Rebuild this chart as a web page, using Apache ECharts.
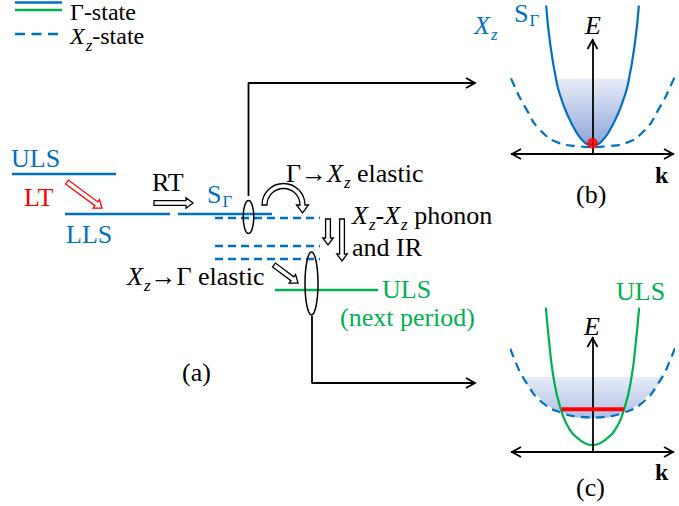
<!DOCTYPE html>
<html><head><meta charset="utf-8">
<script src="https://cdn.jsdelivr.net/npm/echarts@6.0.0/dist/echarts.min.js"></script>
<style>html,body{margin:0;padding:0;background:#fff;}#chart{width:679px;height:506px;}</style>
</head><body><div id="chart"></div>
<script>
// ================= DATA =================
// Panel (a) schematic, in diagram units (x to the right, y downward)
const blueLevels   = [[12,116,174],[65,170,214],[178,272,214]];   // [xFrom, xTo, level]
const xzLevels     = [[215,320,218],[215,320,246],[215,320,259]];
const greenLevels  = [[275,378,290]];
const legendBlue   = [[15,62,2.5]];
const legendGreen  = [[15,62,10]];
const legendDashed = [[15,58,34]];
const connectorToB = [[248.5,196],[248.5,83],[475,83]];
const connectorToC = [[312,316],[312,383],[475,383]];
const connectorTips = [[475,83],[475,383]];
const hollowArrows = [[67,182,102,208],[154,203,193,203],[328,219,328,245],[342,219,342,261],[274,265,298,283]];
const hollowArrowColors = ['#FF0000','#000','#000','#000','#000'];
const curvedArrow  = [[283.5,205]];
const curvedArrowRadius = [19];
const ellipses     = [[248.5,217],[311.5,283.5]];
const ellipseRadii = [[5.3,16.5],[6.5,31.5]];

// Panel (b): k vs E (arbitrary units)
const kGammaB = [-0.616,-0.563,-0.474,-0.41,-0.342,-0.209,-0.106,-0.05,0,0.05,0.106,0.209,0.342,0.41,0.474,0.563,0.616];
const eGammaB = [1.367,1.018,0.651,0.5,0.376,0.193,0.106,0.088,0.083,0.088,0.106,0.193,0.376,0.5,0.651,1.018,1.367];
const kXzB    = [-1.225,-1.053,-0.872,-0.695,-0.43,-0.2,0,0.2,0.43,0.695,0.872,1.053,1.225];
const eXzB    = [0.954,0.649,0.404,0.220,0.098,0.073,0.064,0.073,0.098,0.220,0.404,0.649,0.954];
const kFillB  = [-0.484,-0.41,-0.342,-0.209,-0.106,-0.05,0,0.05,0.106,0.209,0.342,0.41,0.484];
const eFillB  = [0.694,0.5,0.376,0.193,0.106,0.088,0.083,0.088,0.106,0.193,0.376,0.5,0.694];
const fillTopB = 0.694;
const electronB = [[0,0.10]];

// Panel (c)
const kGammaC = [-0.62,-0.57,-0.519,-0.43,-0.298,-0.166,-0.08,0,0.08,0.166,0.298,0.43,0.519,0.57,0.62];
const eGammaC = [1.33,0.97,0.691,0.416,0.202,0.110,0.074,0.064,0.074,0.110,0.202,0.416,0.691,0.97,1.33];
const kXzC    = [-1.225,-1.049,-0.872,-0.652,-0.387,-0.2,0,0.2,0.387,0.652,0.872,1.049,1.225];
const eXzC    = [1.211,0.874,0.630,0.447,0.355,0.327,0.318,0.327,0.355,0.447,0.630,0.874,1.211];
const kShadeC = [-0.94,-0.74,-0.43,0,0.43,0.74,0.96];
const eShadeC = [0.691,0.523,0.370,0.309,0.370,0.523,0.691];
const shadeTopC = 0.691;
const redBandC = [[-0.41,0.394],[0.42,0.394]];

// axis extents for panels (b) and (c)
const kRange = [-1.07, 1.07];
const eRange = [0, 1.05];

// ================= STYLE =================
const FAM = '"Liberation Serif", "DejaVu Serif", serif';
const BLUE = '#0070C0', GREEN = '#00B050', RED = '#FF0000';
const FS = 26;

const zip = (a, b) => a.map((v, i) => [v, b[i]]);

function segSeries(segs, color, width, dash, gi) {
  return segs.map(s => ({
    type: 'line', xAxisIndex: gi, yAxisIndex: gi, data: [[s[0], s[2]], [s[1], s[2]]],
    symbol: 'none', silent: true, clip: false, z: 3,
    lineStyle: { color, width, type: dash || 'solid', cap: 'butt' }
  }));
}
function curve(data, color, width, dash, gi, z) {
  return { type: 'line', xAxisIndex: gi, yAxisIndex: gi, data, smooth: true,
    symbol: 'none', silent: true, clip: false, z: z || 3,
    lineStyle: { color, width, type: dash || 'solid' } };
}
function chevronSeries(points, dirs, gi) {
  return { type: 'custom', xAxisIndex: gi, yAxisIndex: gi, clip: false, silent: true, z: 6,
    data: points,
    renderItem(params, api) {
      const p = api.coord([api.value(0), api.value(1)]);
      const d = dirs[params.dataIndex];
      const nx = -d[1], ny = d[0];
      const bx = p[0] - d[0] * 9, by = p[1] - d[1] * 9;
      return { type: 'polyline', shape: { points: [[bx + nx * 5, by + ny * 5], p, [bx - nx * 5, by - ny * 5]] },
        style: { stroke: '#000', lineWidth: 1.8, fill: null } };
    } };
}
function gradient(c0, c1) {
  return new echarts.graphic.LinearGradient(0, 0, 0, 1, [{ offset: 0, color: c0 }, { offset: 1, color: c1 }]);
}

function makeRich(fs) {
  return {
    i:  { fontFamily: FAM, fontSize: fs, fontStyle: 'italic' },
    sz: { fontFamily: FAM, fontSize: 17, fontStyle: 'italic', padding: [18, 0, 0, 1], lineHeight: fs },
    sg: { fontFamily: FAM, fontSize: 17, padding: [14, 0, 0, 1], lineHeight: fs },
    k:  { fontFamily: FAM, fontSize: 24, fontWeight: 'bold' }
  };
}
function txt(x, y, text, color, fs) {
  fs = fs || FS;
  return { type: 'text', x, y, z: 100, silent: true,
    style: { text, fill: color || '#000', font: fs + 'px ' + FAM, align: 'left', verticalAlign: 'middle',
      lineHeight: fs, rich: makeRich(fs) } };
}

const texts = [
  txt(70, 12, 'Γ-state', null, 24),
  txt(70, 36, '{i|X}{sz|z}-state', null, 24),
  txt(11, 158.5, 'ULS', BLUE),
  txt(24, 197.5, 'LT', RED),
  txt(66, 234, 'LLS', BLUE),
  txt(152, 182.5, 'RT'),
  txt(207, 194, 'S{sg|Γ}', BLUE),
  txt(286, 173, 'Γ→{i|X}{sz|z} elastic'),
  txt(352, 215.5, '{i|X}{sz|z}-{i|X}{sz|z} phonon'),
  txt(352, 247, 'and IR'),
  txt(127, 276.5, '{i|X}{sz|z}→Γ elastic'),
  txt(382, 289.5, 'ULS', GREEN),
  txt(340, 317, '(next period)', GREEN),
  txt(182, 372, '(a)'),
  txt(585, 25.5, '{i|E}'),
  txt(514, 13, 'S{sg|Γ}', BLUE),
  txt(474, 25, '{i|X}{sz|z}', BLUE),
  txt(655, 175, '{k|k}'),
  txt(576, 194, '(b)'),
  txt(584, 326.5, '{i|E}'),
  txt(616, 291.5, 'ULS', GREEN),
  txt(655, 471.5, '{k|k}'),
  txt(576, 487.5, '(c)')
];

function panelAxes(gi) {
  const line = { show: true, onZero: true, lineStyle: { color: '#000', width: 1.8 } };
  return {
    x: { type: 'value', gridIndex: gi, min: kRange[0], max: kRange[1], z: 4, axisLine: line,
         axisTick: { show: false }, axisLabel: { show: false }, splitLine: { show: false } },
    y: { type: 'value', gridIndex: gi, min: eRange[0], max: eRange[1], z: 4, axisLine: line,
         axisTick: { show: false }, axisLabel: { show: false }, splitLine: { show: false } }
  };
}
const axB = panelAxes(1), axC = panelAxes(2);

const series = [].concat(
  segSeries(legendBlue, BLUE, 2.5, null, 0),
  segSeries(legendGreen, GREEN, 2.5, null, 0),
  segSeries(legendDashed, BLUE, 2.5, [10, 6.5], 0),
  segSeries(blueLevels, BLUE, 2.5, null, 0),
  segSeries(xzLevels, BLUE, 2.5, [8, 5], 0),
  segSeries(greenLevels, GREEN, 2.5, null, 0),
  [
    { type: 'line', xAxisIndex: 0, yAxisIndex: 0, data: connectorToB, symbol: 'none', clip: false, z: 4,
      lineStyle: { color: '#000', width: 1.8 } },
    { type: 'line', xAxisIndex: 0, yAxisIndex: 0, data: connectorToC, symbol: 'none', clip: false, z: 4,
      lineStyle: { color: '#000', width: 1.8 } },
    chevronSeries(connectorTips, [[1, 0], [1, 0]], 0),
    { type: 'custom', xAxisIndex: 0, yAxisIndex: 0, clip: false, silent: true, z: 7,
      data: hollowArrows,
      encode: { x: 0, y: 1 },
      renderItem(params, api) {
        const a = hollowArrows[params.dataIndex];
        const p1 = api.coord([a[0], a[1]]), p2 = api.coord([a[2], a[3]]);
        const L = Math.hypot(p2[0] - p1[0], p2[1] - p1[1]);
        const ux = (p2[0] - p1[0]) / L, uy = (p2[1] - p1[1]) / L;
        const nx = -uy, ny = ux;
        const hw = 2.4, hh = 5.3, hl = 7;
        const bx = p2[0] - ux * hl, by = p2[1] - uy * hl;
        const pts = [
          [p1[0] + nx * hw, p1[1] + ny * hw], [bx + nx * hw, by + ny * hw], [bx + nx * hh, by + ny * hh],
          p2, [bx - nx * hh, by - ny * hh], [bx - nx * hw, by - ny * hw], [p1[0] - nx * hw, p1[1] - ny * hw]
        ];
        return { type: 'polygon', shape: { points: pts },
          style: { fill: '#fff', stroke: hollowArrowColors[params.dataIndex], lineWidth: 1.3 } };
      } },
    { type: 'custom', xAxisIndex: 0, yAxisIndex: 0, clip: false, silent: true, z: 7,
      data: curvedArrow,
      renderItem(params, api) {
        const c = api.coord(curvedArrow[params.dataIndex]);
        const R = api.size([curvedArrowRadius[params.dataIndex], 0])[0];
        const Ro = R + 2.5, Ri = R - 2.5, cx = c[0], cy = c[1];
        const d = 'M' + (cx - Ro) + ' ' + cy + ' A' + Ro + ' ' + Ro + ' 0 0 1 ' + (cx + Ro) + ' ' + cy +
          ' L' + (cx + R + 6) + ' ' + cy + ' L' + (cx + R) + ' ' + (cy + 8) + ' L' + (cx + R - 6) + ' ' + cy +
          ' L' + (cx + Ri) + ' ' + cy + ' A' + Ri + ' ' + Ri + ' 0 0 0 ' + (cx - Ri) + ' ' + cy + ' Z';
        return { type: 'path', shape: { pathData: d }, style: { fill: '#fff', stroke: '#000', lineWidth: 1.3 } };
      } },
    { type: 'custom', xAxisIndex: 0, yAxisIndex: 0, clip: false, silent: true, z: 8,
      data: ellipses,
      renderItem(params, api) {
        const c = api.coord(ellipses[params.dataIndex]);
        const r = api.size(ellipseRadii[params.dataIndex]);
        const rx = r[0], ry = r[1], cx = c[0], cy = c[1];
        const d = 'M' + (cx - rx) + ' ' + cy + ' A' + rx + ' ' + ry + ' 0 1 0 ' + (cx + rx) + ' ' + cy +
          ' A' + rx + ' ' + ry + ' 0 1 0 ' + (cx - rx) + ' ' + cy + ' Z';
        return { type: 'path', shape: { pathData: d }, style: { fill: null, stroke: '#000', lineWidth: 1.5 } };
      } },

    // ---- panel (b)
    { type: 'line', xAxisIndex: 1, yAxisIndex: 1, data: zip(kFillB, eFillB), smooth: true,
      symbol: 'none', silent: true, clip: false, z: 1, lineStyle: { width: 0, opacity: 0 },
      areaStyle: { origin: fillTopB, opacity: 1, color: gradient('#e8ecf7', '#8ea5da') } },
    curve(zip(kGammaB, eGammaB), BLUE, 2.2, null, 1, 3),
    curve(zip(kXzB, eXzB), BLUE, 2.2, [9, 6], 1, 3),
    { type: 'scatter', xAxisIndex: 1, yAxisIndex: 1, data: electronB, symbolSize: 11, silent: true, z: 6,
      itemStyle: { color: RED } },
    chevronSeries([[kRange[0], 0], [kRange[1], 0], [0, eRange[1]]], [[-1, 0], [1, 0], [0, -1]], 1),

    // ---- panel (c)
    { type: 'line', xAxisIndex: 2, yAxisIndex: 2, data: zip(kShadeC, eShadeC), smooth: true,
      symbol: 'none', silent: true, clip: false, z: 1, lineStyle: { width: 0, opacity: 0 },
      areaStyle: { origin: shadeTopC, opacity: 1, color: gradient('#e6ebf6', '#aebfe6') } },
    curve(zip(kXzC, eXzC), BLUE, 2.2, [9, 6], 2, 3),
    curve(zip(kGammaC, eGammaC), GREEN, 2.2, null, 2, 3),
    { type: 'line', xAxisIndex: 2, yAxisIndex: 2, data: redBandC, symbol: 'none', silent: true, clip: false, z: 5,
      lineStyle: { color: RED, width: 4, cap: 'butt' } },
    chevronSeries([[kRange[0], 0], [kRange[1], 0], [0, eRange[1]]], [[-1, 0], [1, 0], [0, -1]], 2)
  ]
);

const chart = echarts.init(document.getElementById('chart'), null, { renderer: 'svg' });
chart.setOption({
  animation: false,
  backgroundColor: '#fff',
  grid: [
    { left: 0, right: 0, top: 0, bottom: 0 },
    { left: 512, right: 6, top: 40, bottom: 352 },
    { left: 512, right: 6, top: 338, bottom: 54 }
  ],
  xAxis: [
    { type: 'value', gridIndex: 0, min: 0, max: 679, show: false },
    axB.x, axC.x
  ],
  yAxis: [
    { type: 'value', gridIndex: 0, min: 0, max: 506, inverse: true, show: false },
    axB.y, axC.y
  ],
  graphic: texts,
  series
});
</script>
</body></html>
